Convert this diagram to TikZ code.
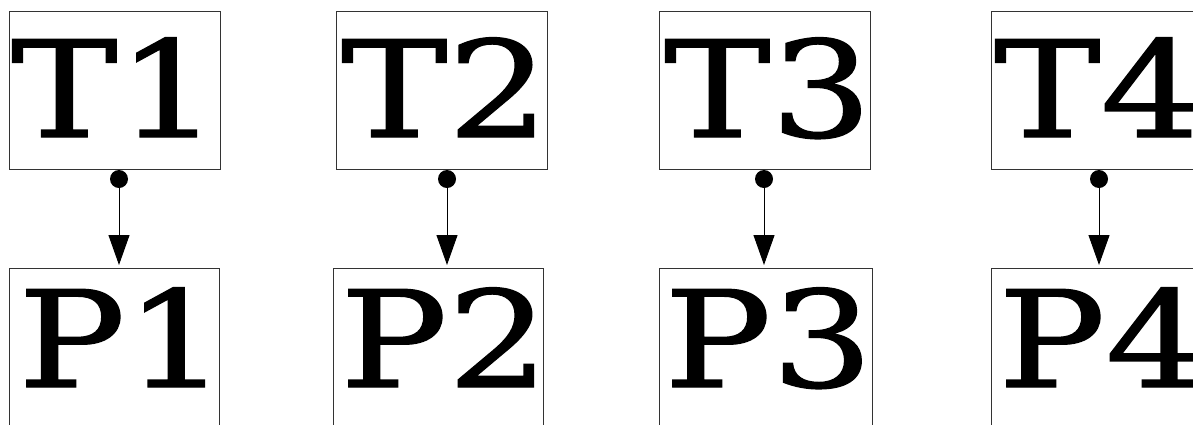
\documentclass[tikz,border=0pt]{standalone}
\usepackage{fontspec}
\usepackage{graphicx}
\setmainfont{DejaVu Serif}
\newfontfamily\heavyserif{DejaVu Serif}[FakeBold=1]
\usetikzlibrary{arrows.meta}
\newcommand{\wide}[1]{\scalebox{1.19}[1]{#1}}
\begin{document}
\begin{tikzpicture}[x=1pt,y=1pt,
  boxnode/.style={draw=black!80,line width=1pt,minimum width=211pt,minimum height=158pt,inner sep=0pt,anchor=north west},
  bigtext/.style={font=\heavyserif\fontsize{134}{134}\selectfont,inner sep=0pt,anchor=base west},
  link/.style={line width=1pt,-{Triangle[width=21pt,length=30pt]}},
  dotnode/.style={circle,fill=black,inner sep=0pt,minimum size=18pt}]
\useasboundingbox (0,0) rectangle (1193,-424);
\begin{scope}
\clip (0,0) rectangle (1193,-424);
% boxes
\node[boxnode] (T1) at (9,-11) {};
\node[boxnode] (T2) at (336,-11) {};
\node[boxnode] (T3) at (659,-11) {};
\node[boxnode] (T4) at (991,-11) {};
\node[boxnode,minimum width=210pt] (P1) at (9,-268) {};
\node[boxnode,minimum width=210pt] (P2) at (333,-268) {};
\node[boxnode,minimum width=213pt] (P3) at (659,-268) {};
\node[boxnode] (P4) at (991,-268) {};
% texts
\node[bigtext] (T1t) at (11,-137) {\wide{T1}};
\node[bigtext] (T2t) at (341,-137) {\wide{T2}};
\node[bigtext] (T3t) at (664,-137) {\wide{T3}};
\node[bigtext] (T4t) at (994,-137) {\wide{T4}};
\node[bigtext] (P1t) at (18,-387) {\wide{P1}};
\node[bigtext] (P2t) at (340,-387) {\wide{P2}};
\node[bigtext] (P3t) at (664,-387) {\wide{P3}};
\node[bigtext] (P4t) at (998,-387) {\wide{P4}};
% dots and arrows
\node[dotnode] (d1) at (119,-179) {};
\node[dotnode] (d2) at (447,-179) {};
\node[dotnode] (d3) at (764,-179) {};
\node[dotnode] (d4) at (1099,-179) {};
\draw[link] (d1.center) -- ([yshift=3pt]d1.center |- P1.north);
\draw[link] (d2.center) -- ([yshift=3pt]d2.center |- P2.north);
\draw[link] (d3.center) -- ([yshift=3pt]d3.center |- P3.north);
\draw[link] (d4.center) -- ([yshift=3pt]d4.center |- P4.north);
\end{scope}
\end{tikzpicture}
\end{document}
